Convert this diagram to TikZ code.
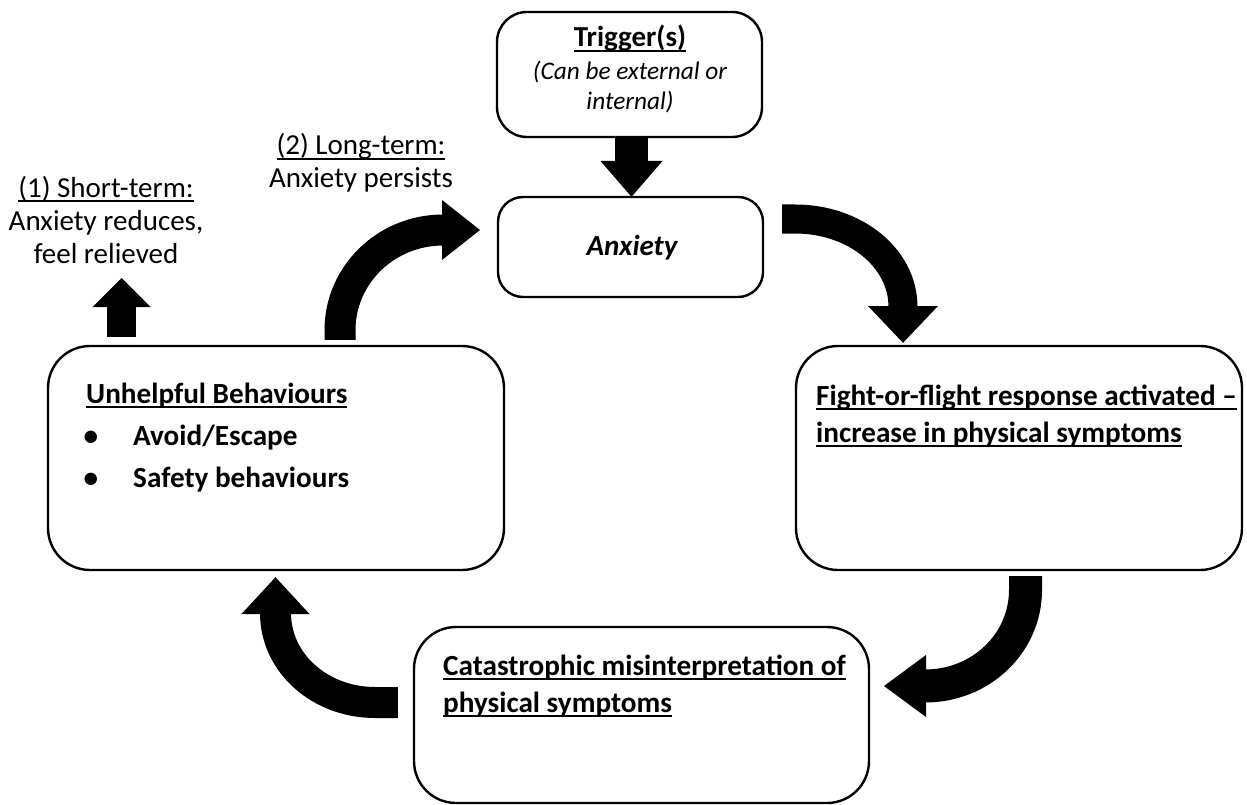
\documentclass[tikz,border=0pt]{standalone}
\usepackage{fontspec}
\setmainfont{Carlito}
\usetikzlibrary{calc}
\newcommand{\ulx}[1]{\setbox0\hbox{#1}\rlap{\rule[-5pt]{\wd0}{2pt}}\box0}
\tikzset{
  box/.style={draw=black, line width=2.4pt, fill=white},
  txt/.style={inner sep=0pt, anchor=base west, font=\fontsize{29}{35}\selectfont},
  ctxt/.style={inner sep=0pt, anchor=base, font=\fontsize{29}{35}\selectfont},
  bx/.style={font=\bfseries\fontsize{29.2}{36}\selectfont},
  shaft/.style={draw=black, line width=#1},
  head/.style={fill=black}
}
\newcommand{\blockhead}[3]{% base, tip, halfwidth
  \fill[head] ($(#1)!#3!90:(#2)$) -- (#2) -- ($(#1)!#3!-90:(#2)$) -- cycle;}
\begin{document}
\begin{tikzpicture}[x=1pt,y=-1pt]
\useasboundingbox (0,0) rectangle (1247,805);
\fill[white] (0,0) rectangle (1247,805);
% boxes
\draw[box, rounded corners=30pt] (497,12) rectangle (762,137);
\node[inner sep=0pt] (trig) at (629.5,74.5) [minimum width=265pt, minimum height=125pt] {};
\draw[box, rounded corners=25pt] (498,197) rectangle (763,297);
\node[inner sep=0pt] (anx) at (630.5,247) [minimum width=265pt, minimum height=100pt] {};
\draw[box, rounded corners=42pt] (48,346) rectangle (504,570);
\node[inner sep=0pt] (unh) at (276,458) [minimum width=456pt, minimum height=224pt] {};
\draw[box, rounded corners=42pt] (796,346) rectangle (1242,570);
\node[inner sep=0pt] (fgt) at (1019,458) [minimum width=446pt, minimum height=224pt] {};
\draw[box, rounded corners=42pt] (414,627) rectangle (869,803);
\node[inner sep=0pt] (cat) at (641.5,715) [minimum width=455pt, minimum height=176pt] {};

% texts
\node[ctxt, font=\bfseries\fontsize{29}{35}\selectfont] (trigT) at (630,47) {\ulx{Trigger(s)}};
\node[ctxt, font=\itshape\fontsize{25.3}{30}\selectfont] (trigA) at (630,80) {(Can be external or};
\node[ctxt, font=\itshape\fontsize{25.3}{30}\selectfont] (trigB) at (630,110) {internal)};
\node[ctxt, font=\bfseries\itshape\fontsize{29}{35}\selectfont] (anxT) at (632,255) {Anxiety};

\node[ctxt] (st1) at (106,197) {\ulx{(1) Short-term:}};
\node[ctxt] (st2) at (106,230) {Anxiety reduces,};
\node[ctxt] (st3) at (106,263) {feel relieved};
\node[ctxt] (lt1) at (361,155) {\ulx{(2) Long-term:}};
\node[ctxt] (lt2) at (361,188) {Anxiety persists};

\node[txt, bx] (u1) at (86,403) {\ulx{Unhelpful Behaviours}};
\node[ctxt, bx] (b1) at (91,445) {\textbullet};
\node[txt, bx] (u2) at (133,445) {Avoid/Escape};
\node[ctxt, bx] (b2) at (91,487) {\textbullet};
\node[txt, bx] (u3) at (133,487) {Safety behaviours};

\node[txt, bx] (f1) at (816,405) {\ulx{Fight-or-flight response activated –}};
\node[txt, bx] (f2) at (816,442) {\ulx{increase in physical symptoms}};

\node[txt, bx] (c1) at (443,675) {\ulx{Catastrophic misinterpretation of}};
\node[txt, bx] (c2) at (443,712) {\ulx{physical symptoms}};

% arrow 1: trigger -> anxiety
\coordinate (a1s) at (trig.south -| 631.5,0);
\coordinate (a1b) at (631.5,161);
\coordinate (a1t) at (anx.north -| 631.5,0);
\draw[shaft=33pt] (a1s) -- ($(a1b)+(0,1)$);
\blockhead{a1b}{a1t}{31pt}

% arrow 2: anxiety -> fight
\coordinate (a2s) at ($(anx.east)+(19,-28)$);
\coordinate (a2b) at (903,306);
\coordinate (a2t) at ($(fgt.north -| 903,0)+(0,-3)$);
\draw[shaft=29pt] (a2s) -- (795,219) .. controls (855,219) and (903,258) .. ($(a2b)+(0,1)$);
\blockhead{a2b}{a2t}{35pt}

% arrow 3: fight -> catastrophic
\coordinate (a3s) at ($(fgt.south -| 1025.5,0)+(0,6)$);
\coordinate (a3b) at (926,686);
\coordinate (a3t) at (884,686);
\draw[shaft=33pt] (a3s) -- (1025.5,590) .. controls (1025.5,643) and (981,686) .. ($(a3b)+(-1,0)$);
\blockhead{a3b}{a3t}{31pt}

% arrow 4: catastrophic -> unhelpful
\coordinate (a4s) at ($(cat.west |- 0,702.5)+(-16,0)$);
\coordinate (a4b) at (275.5,614);
\coordinate (a4t) at ($(unh.south -| 275.5,0)+(0,7)$);
\draw[shaft=31pt] (a4s) -- (375,702.5) .. controls (320,702.5) and (275.5,663) .. ($(a4b)+(0,-1)$);
\blockhead{a4b}{a4t}{34pt}

% arrow 5: unhelpful -> long-term (back to anxiety)
\coordinate (a5s) at ($(unh.north -| 340,0)+(0,-6)$);
\coordinate (a5b) at (442,230);
\coordinate (a5t) at (480,230);
\draw[shaft=31pt] (a5s) -- (340,330) .. controls (340,275) and (386,230) .. ($(a5b)+(1,0)$);
\blockhead{a5b}{a5t}{30pt}

% arrow 6: unhelpful -> short-term
\coordinate (a6s) at ($(unh.north -| 121.5,0)+(0,-9)$);
\coordinate (a6b) at (121.5,307);
\coordinate (a6t) at (121.5,278);
\draw[shaft=29pt] (a6s) -- ($(a6b)+(0,-1)$);
\blockhead{a6b}{a6t}{29pt}
\end{tikzpicture}
\end{document}
